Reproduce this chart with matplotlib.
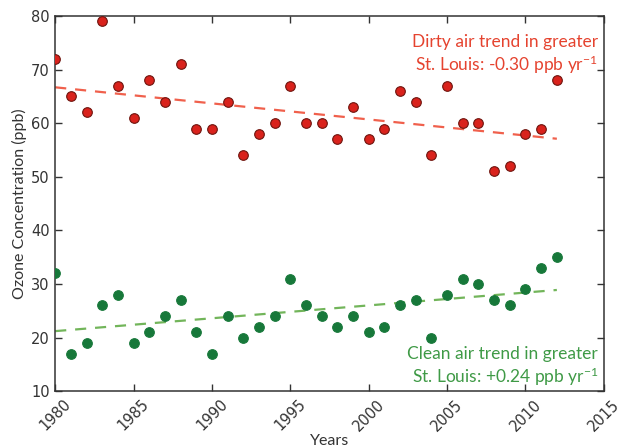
import matplotlib
matplotlib.use("Agg")
import matplotlib.pyplot as plt
import numpy as np

years = list(range(1980, 2013))
dirty = [72, 65, 62, 79, 67, 61, 68, 64, 71, 59, 59, 64, 54, 58, 60, 67, 60,
         60, 57, 63, 57, 59, 66, 64, 54, 67, 60, 60, 51, 52, 58, 59, 68]
clean = [32, 17, 19, 26, 28, 19, 21, 24, 27, 21, 17, 24, 20, 22, 24, 31, 26,
         24, 22, 24, 21, 22, 26, 27, 20, 28, 31, 30, 27, 26, 29, 33, 35]

# trend lines: value at 1980 and slope (ppb / yr)
dirty_start, dirty_slope = 66.7, -0.30
clean_start, clean_slope = 21.2, 0.24

xticks = [1980, 1985, 1990, 1995, 2000, 2005, 2010, 2015]
yticks = [10, 20, 30, 40, 50, 60, 70, 80]

RED, RED_LINE, RED_TXT = "#d9221c", "#f0604c", "#e5432f"
GREEN, GREEN_LINE, GREEN_TXT = "#17783a", "#72b55a", "#3f9a46"
INK = "#333333"

plt.rcParams["mathtext.default"] = "regular"
fig = plt.figure(figsize=(6.2, 4.45), dpi=100)
ax = fig.add_axes([0.089, 0.121, 0.885, 0.843])

yr = np.array(years, dtype=float)
ax.plot(yr, dirty_start + dirty_slope * (yr - 1980), "--", color=RED_LINE, lw=1.6, dashes=(5, 4))
ax.plot(yr, clean_start + clean_slope * (yr - 1980), "--", color=GREEN_LINE, lw=1.6, dashes=(5, 4))
ax.scatter(years, dirty, s=48, color=RED, edgecolors="#6e140e", linewidths=0.8, zorder=3)
ax.scatter(years, clean, s=48, color=GREEN, edgecolors=GREEN, linewidths=0.8, zorder=3)

ax.set_xlim(1980, 2015)
ax.set_ylim(10, 80)
ax.set_xticks(xticks)
ax.set_yticks(yticks)
ax.tick_params(direction="in", length=5, width=1, top=True, right=True,
               labelsize=10.5, colors=INK, pad=4)
plt.setp(ax.get_xticklabels(), rotation=45, ha="center", va="top")
for s in ax.spines.values():
    s.set_linewidth(1.1)
    s.set_color(INK)

ax.set_ylabel("Ozone Concentration (ppb)", fontsize=11.5, family="Lato", color=INK, labelpad=3)
ax.set_xlabel("Years", fontsize=11.5, family="Lato", color=INK, labelpad=0)

ax.text(0.989, 0.952, "Dirty air trend in greater\nSt. Louis: -0.30 ppb yr$^{-1}$",
        transform=ax.transAxes, ha="right", va="top", fontsize=12.5,
        family="Lato", color=RED_TXT, linespacing=1.2)
ax.text(0.989, 0.008, "Clean air trend in greater\nSt. Louis: +0.24 ppb yr$^{-1}$",
        transform=ax.transAxes, ha="right", va="bottom", fontsize=12.5,
        family="Lato", color=GREEN_TXT, linespacing=1.2)

fig.savefig("out.png", dpi=100)
